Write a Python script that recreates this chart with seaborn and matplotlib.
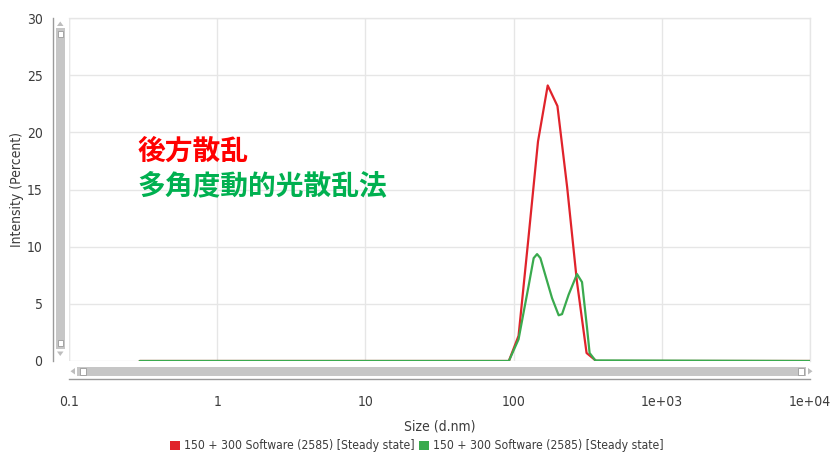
import matplotlib
matplotlib.use("Agg")
import matplotlib.pyplot as plt
import matplotlib.font_manager as fm
from matplotlib.patches import Rectangle, Polygon, Patch
import pandas as pd
import seaborn as sns

# Size distribution by intensity (two measurements)
red_size = [0.3, 92.9, 108.0, 125.6, 146.1, 169.9, 197.6, 229.8, 267.2, 310.7, 361.4, 10000]
red_intensity = [0, 0, 2.2, 10.6, 19.2, 24.1, 22.3, 15.2, 7.0, 0.7, 0, 0]

green_size = [0.3, 92.9, 108.0, 117.0, 126.4, 136.6, 144.0, 151.6, 163.8, 181.7, 201.4,
              212.3, 235.1, 267.9, 289.5, 312.9, 325.7, 355.9, 10000]
green_intensity = [0, 0, 1.9, 4.3, 6.6, 9.0, 9.35, 9.0, 7.5, 5.5, 4.0,
                   4.1, 5.8, 7.6, 6.9, 2.9, 0.7, 0.05, 0]

x_ticks = [0.1, 1, 10, 100, 1000, 10000]
x_tick_labels = ["0.1", "1", "10", "100", "1e+03", "1e+04"]
y_ticks = [0, 5, 10, 15, 20, 25, 30]
series_label = "150 + 300 Software (2585) [Steady state]"
note_red = "後方散乱"
note_green = "多角度動的光散乱法"

RED = "#E0232B"
GREEN = "#3AAA4E"

sns.set_style("white")

# pick a narrow sans face for the axis text if one is installed
names = {(f.name, f.stretch) for f in fm.fontManager.ttflist}
if any(n == "Liberation Sans Narrow" for n, _ in names):
    ui_family, ui_stretch, ui_size, leg_size = "Liberation Sans Narrow", "normal", 11, 10
elif ("DejaVu Sans", "condensed") in names or ("DejaVu Sans", 300) in names:
    ui_family, ui_stretch, ui_size, leg_size = "DejaVu Sans", "condensed", 10, 8.7
else:
    ui_family, ui_stretch, ui_size, leg_size = "Lato", "normal", 10, 9
plt.rcParams["font.family"] = [ui_family, "DejaVu Sans"]
plt.rcParams["font.stretch"] = ui_stretch

W, H = 831, 454
fig = plt.figure(figsize=(W / 100, H / 100), dpi=100)

def px_box(x0, y0, x1, y1):
    return [x0 / W, 1 - y1 / H, (x1 - x0) / W, (y1 - y0) / H]

ax = fig.add_axes(px_box(69, 18, 810, 361))

df_red = pd.DataFrame({"size": red_size, "intensity": red_intensity})
df_green = pd.DataFrame({"size": green_size, "intensity": green_intensity})
sns.lineplot(data=df_red, x="size", y="intensity", color=RED, lw=1.6, ax=ax, zorder=3)
sns.lineplot(data=df_green, x="size", y="intensity", color=GREEN, lw=1.6, ax=ax, zorder=4)

ax.set_xscale("log")
ax.set_xlim(0.1, 10000)
ax.set_ylim(0, 30)
ax.xaxis.set_major_locator(matplotlib.ticker.FixedLocator(x_ticks))
ax.xaxis.set_major_formatter(matplotlib.ticker.FixedFormatter(x_tick_labels))
ax.xaxis.set_minor_locator(matplotlib.ticker.NullLocator())
ax.set_yticks(y_ticks)

grid_c = "#E6E6E6"
ax.grid(True, color=grid_c, lw=1)
ax.axvline(0.1, color=grid_c, lw=1, zorder=1)
for side in ("top", "right"):
    ax.spines[side].set_color(grid_c)
    ax.spines[side].set_linewidth(1)

axis_c = "#9A9A9A"
ax.spines["left"].set_position(("outward", 16 * 0.72))
ax.spines["bottom"].set_position(("outward", 18 * 0.72))
for side in ("left", "bottom"):
    ax.spines[side].set_color(axis_c)
    ax.spines[side].set_linewidth(1)
ax.tick_params(axis="both", which="major", direction="out", length=4.5, width=1,
               color=axis_c, labelcolor="#3C3C3C", labelsize=ui_size)
ax.tick_params(axis="y", pad=3)
ax.tick_params(axis="x", pad=7)

ax.set_xlabel("Size (d.nm)", fontsize=ui_size, color="#3C3C3C")
ax.set_ylabel("Intensity (Percent)", fontsize=ui_size, color="#3C3C3C")
ax.xaxis.set_label_coords(0.5, (361 - 426) / 343, transform=ax.transAxes)
ax.yaxis.set_label_coords((17 - 69) / 741, 0.5, transform=ax.transAxes)
ax.xaxis.label.set_va("center")
ax.yaxis.label.set_va("center")

cjk = ["Noto Sans CJK JP", "DejaVu Sans"]
fig.text(138 / W, 1 - 152 / H, note_red, ha="left", va="center", color="#FF0000",
         fontsize=20, fontweight="bold", family=cjk, stretch="normal")
fig.text(138 / W, 1 - 186 / H, note_green, ha="left", va="center", color="#00B050",
         fontsize=20, fontweight="bold", family=cjk, stretch="normal")

# scrollbars drawn in pixel space on an overlay
ov = fig.add_axes([0, 0, 1, 1], facecolor="none")
ov.set_xlim(0, W)
ov.set_ylim(H, 0)
ov.axis("off")
bar_c = "#C6C6C6"
arrow_c = "#BDBDBD"
# vertical
ov.add_patch(Rectangle((56, 28), 8.5, 321, facecolor=bar_c, edgecolor="none"))
ov.add_patch(Rectangle((57.5, 31), 5.5, 6, facecolor="white", edgecolor="#9A9A9A", lw=0.6))
ov.add_patch(Rectangle((57.5, 340), 5.5, 6, facecolor="white", edgecolor="#9A9A9A", lw=0.6))
ov.add_patch(Polygon([(57, 26), (63.5, 26), (60.25, 21.5)], closed=True, facecolor=arrow_c, edgecolor="none"))
ov.add_patch(Polygon([(57, 351.5), (63.5, 351.5), (60.25, 356)], closed=True, facecolor=arrow_c, edgecolor="none"))
# horizontal
ov.add_patch(Rectangle((77, 366.5), 729, 9.5, facecolor=bar_c, edgecolor="none"))
ov.add_patch(Rectangle((79.5, 368), 6, 6.5, facecolor="white", edgecolor="#9A9A9A", lw=0.6))
ov.add_patch(Rectangle((797.5, 368), 6, 6.5, facecolor="white", edgecolor="#9A9A9A", lw=0.6))
ov.add_patch(Polygon([(75, 368), (75, 374.5), (70.5, 371.25)], closed=True, facecolor=arrow_c, edgecolor="none"))
ov.add_patch(Polygon([(808, 368), (808, 374.5), (812.5, 371.25)], closed=True, facecolor=arrow_c, edgecolor="none"))

handles = [Patch(facecolor=RED, edgecolor="none", label=series_label),
           Patch(facecolor=GREEN, edgecolor="none", label=series_label)]
fig.legend(handles=handles, loc="center", bbox_to_anchor=(417 / W, 1 - 446 / H),
           ncol=2, frameon=False, fontsize=leg_size, handlelength=0.8, handleheight=0.8,
           handletextpad=0.35, columnspacing=0.4, labelcolor="#3C3C3C")

fig.savefig("out.png", dpi=100, facecolor="white")
